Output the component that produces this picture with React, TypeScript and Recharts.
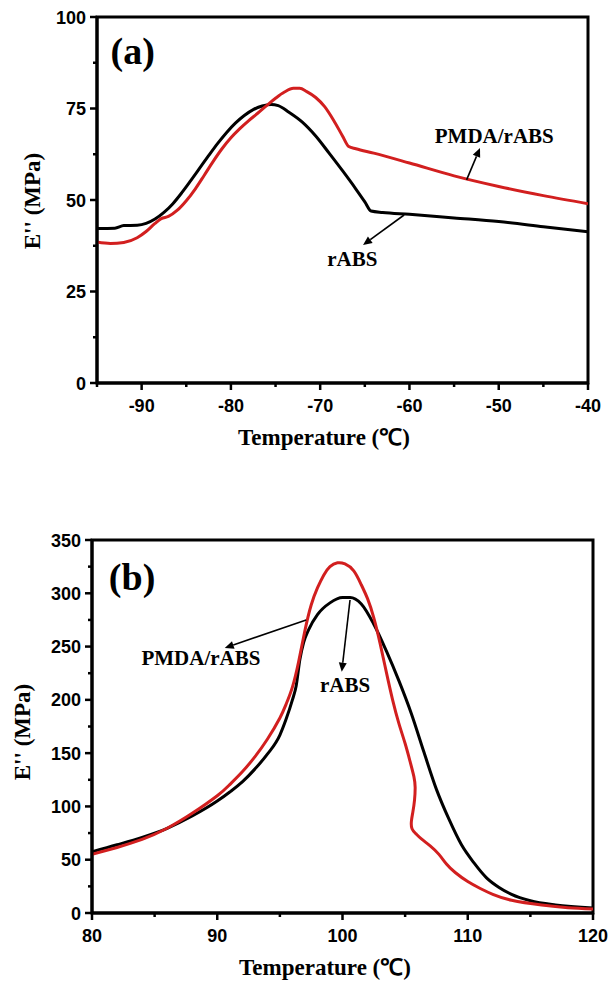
import { LineChart, Line, XAxis, YAxis, ReferenceArea, ReferenceLine, ReferenceDot } from 'recharts';

const serif = "'Liberation Serif', 'Times New Roman', serif";
const sans = "'Liberation Sans', Arial, sans-serif";
const RED = '#d21f1f';

// panel (a) – low temperature loss peak
const aTempRABS = [-95, -93, -92, -90.5, -89.5, -88.5, -87.5, -86.5, -85.5, -84.5, -83.5, -82.5, -81.5, -80.5, -79.5, -78.5, -77.5, -76.5, -75.5, -74.7, -73.5, -72, -70.5, -69, -67.5, -66, -65, -64.3, -63, -60, -55, -50, -45, -40];
const aLossRABS = [42.2, 42.3, 43, 43.1, 43.6, 44.8, 46.6, 49, 52, 55.3, 58.7, 62.1, 65.4, 68.4, 71, 73.1, 74.7, 75.7, 76.1, 75.8, 74, 71.3, 67.5, 62.8, 58, 53, 49.5, 47, 46.6, 46.1, 45.1, 44.1, 42.7, 41.3];
const aTempPMDA = [-95, -93.5, -92, -90.5, -89.5, -88.5, -87.8, -87, -86, -85, -84, -83, -82, -81, -80, -79, -78, -77, -76, -75, -74, -73, -72.3, -71.5, -70.5, -69.5, -68.5, -67.5, -66.8, -66, -64, -60, -55, -50, -45, -40];
const aLossPMDA = [38.5, 38.1, 38.4, 39.7, 41.4, 43.6, 44.9, 45.5, 47.2, 49.8, 53, 56.7, 60.5, 64, 67, 69.5, 71.7, 73.7, 75.8, 77.8, 79.5, 80.5, 80.5, 79.6, 78, 75.5, 71.8, 67.5, 64.6, 64, 62.8, 60.1, 56.6, 53.7, 51.2, 49];
const aXMajor = [-90, -80, -70, -60, -50, -40];
const aXMinor = [-95, -85, -75, -65, -55, -45];
const aYMajor = [0, 25, 50, 75, 100];
const aYMinor = [12.5, 37.5, 62.5, 87.5];

// panel (b) – glass transition peak
const bTempRABS = [80, 82, 84, 86, 88, 90, 91, 92, 93, 94, 95, 95.5, 96, 96.3, 96.6, 96.9, 97.3, 98, 99, 100, 100.6, 101.5, 102.5, 103.5, 104.5, 105.5, 106.5, 107.5, 108.5, 109.5, 110.5, 111.5, 112.5, 113.5, 115, 117, 120];
const bLossRABS = [57.5, 64, 71, 79.5, 91, 105, 113.5, 123, 135, 149, 167, 182, 200, 213, 238, 254, 266, 280, 291, 296, 296, 290, 271, 246, 218, 187, 151, 116, 88, 64, 47, 33, 24, 17.5, 11.5, 7.5, 4.7];
const bTempPMDA = [80, 82, 84, 86, 88, 90, 91, 92, 93, 94, 95, 95.5, 96, 96.5, 97, 97.5, 98, 98.5, 99, 99.6, 100.2, 100.9, 101.5, 102, 102.5, 103, 103.5, 104, 104.5, 105, 105.4, 105.7, 105.8, 105.75, 105.62, 105.5, 105.55, 105.85, 106.3, 107, 107.7, 108.3, 109, 110, 111, 112, 113.5, 115.9, 118, 120];
const bLossPMDA = [55, 61.5, 69, 79.5, 93.5, 110, 120.5, 132.5, 146.5, 163, 183, 196, 212, 236, 265, 289, 305, 317, 325, 328.6, 327.5, 321, 308, 295, 277, 253, 226, 200, 178, 159, 142, 128, 118, 106, 95, 86, 79, 74.5, 69.5, 63, 55, 46, 38, 29.5, 23, 17.5, 12, 7.5, 5, 3.8];
const bXMajor = [80, 90, 100, 110, 120];
const bXMinor = [85, 95, 105, 115];
const bYMajor = [0, 50, 100, 150, 200, 250, 300, 350];
const bYMinor = [25, 75, 125, 175, 225, 275, 325];

const zip = (t: number[], v: number[]) => t.map((x, i) => ({ t: x, e: v[i] }));

function makeXTick(major: number[]) {
  return (props: any) => {
    const { x, y, payload } = props;
    const isMajor = major.includes(payload.value);
    return (
      <g>
        <line x1={x} y1={y} x2={x} y2={y + (isMajor ? 7 : 4)} stroke="#000" strokeWidth={2.5} />
        {isMajor && (
          <text x={x} y={y + 29} textAnchor="middle" fontFamily={sans} fontWeight="bold" fontSize={18} fill="#000">
            {payload.value}
          </text>
        )}
      </g>
    );
  };
}

function makeYTick(major: number[]) {
  return (props: any) => {
    const { x, y, payload } = props;
    const isMajor = major.includes(payload.value);
    return (
      <g>
        <line x1={x} y1={y} x2={x - (isMajor ? 7 : 4)} y2={y} stroke="#000" strokeWidth={2.5} />
        {isMajor && (
          <text x={x - 11} y={y + 6.5} textAnchor="end" fontFamily={sans} fontWeight="bold" fontSize={18} fill="#000">
            {payload.value}
          </text>
        )}
      </g>
    );
  };
}

const arrowShape = (props: any) => {
  const { x1, y1, x2, y2 } = props;
  const ang = Math.atan2(y2 - y1, x2 - x1);
  const len = 9;
  const w = 4;
  const bx = x2 - len * Math.cos(ang);
  const by = y2 - len * Math.sin(ang);
  const px = -Math.sin(ang) * w;
  const py = Math.cos(ang) * w;
  return (
    <g>
      <line x1={x1} y1={y1} x2={bx} y2={by} stroke="#000" strokeWidth={1.6} />
      <polygon points={`${x2},${y2} ${bx + px},${by + py} ${bx - px},${by - py}`} fill="#000" />
    </g>
  );
};

const textShape = (label: string, size: number) => (props: any) => (
  <text x={props.cx} y={props.cy} textAnchor="middle" dominantBaseline="central" fontFamily={serif} fontWeight="bold" fontSize={size} fill="#000">
    {label}
  </text>
);

type Note = { x: number; y: number; text: string; size: number };
type Arrow = { from: [number, number]; to: [number, number] };

function Panel(p: {
  top: number;
  height: number;
  margin: { top: number; right: number; bottom: number; left: number };
  yWidth: number;
  xDomain: [number, number];
  yDomain: [number, number];
  xMajor: number[];
  xMinor: number[];
  yMajor: number[];
  yMinor: number[];
  rabs: { t: number; e: number }[];
  pmda: { t: number; e: number }[];
  pmdaCurve: 'monotone' | 'natural' | 'linear';
  notes: Note[];
  arrows: Arrow[];
}) {
  const xTicks = [...p.xMajor, ...p.xMinor].sort((a, b) => a - b);
  const yTicks = [...p.yMajor, ...p.yMinor].sort((a, b) => a - b);
  return (
    <div style={{ position: 'absolute', left: 0, top: p.top }}>
      <LineChart width={612} height={p.height} margin={p.margin}>
        <XAxis
          type="number"
          dataKey="t"
          domain={p.xDomain}
          ticks={xTicks}
          interval={0}
          height={30}
          tickSize={0}
          tickMargin={0}
          tickLine={false}
          axisLine={{ stroke: '#000', strokeWidth: 3 }}
          tick={makeXTick(p.xMajor)}
          allowDataOverflow
        />
        <YAxis
          type="number"
          domain={p.yDomain}
          ticks={yTicks}
          interval={0}
          width={p.yWidth}
          tickSize={0}
          tickMargin={0}
          tickLine={false}
          axisLine={{ stroke: '#000', strokeWidth: 3 }}
          tick={makeYTick(p.yMajor)}
          allowDataOverflow
        />
        <ReferenceArea x1={p.xDomain[0]} x2={p.xDomain[1]} y1={p.yDomain[0]} y2={p.yDomain[1]} fill="none" stroke="#000" strokeWidth={3} />
        <Line data={p.rabs} dataKey="e" type="monotone" stroke="#000" strokeWidth={3} dot={false} activeDot={false} isAnimationActive={false} />
        <Line data={p.pmda} dataKey="e" type={p.pmdaCurve} stroke={RED} strokeWidth={3} dot={false} activeDot={false} isAnimationActive={false} />
        {p.arrows.map((a, i) => (
          <ReferenceLine
            key={'a' + i}
            segment={[
              { x: a.from[0], y: a.from[1] },
              { x: a.to[0], y: a.to[1] },
            ]}
            shape={arrowShape}
          />
        ))}
        {p.notes.map((n, i) => (
          <ReferenceDot key={'n' + i} x={n.x} y={n.y} r={0} shape={textShape(n.text, n.size)} />
        ))}
      </LineChart>
    </div>
  );
}

const titleStyle = (left: number, top: number, rotate = false): React.CSSProperties => ({
  position: 'absolute',
  left,
  top,
  transform: `translate(-50%, -50%)${rotate ? ' rotate(-90deg)' : ''}`,
  whiteSpace: 'nowrap',
  fontFamily: serif,
  fontWeight: 'bold',
  fontSize: 23,
  color: '#000',
  lineHeight: 1,
});

export default function App() {
  return (
    <div style={{ position: 'absolute', left: 0, top: 0, width: 612, height: 983, background: '#fff' }}>
      <Panel
        top={0}
        height={460}
        margin={{ top: 17, right: 24, bottom: 47, left: 0 }}
        yWidth={97}
        xDomain={[-95, -40]}
        yDomain={[0, 100]}
        xMajor={aXMajor}
        xMinor={aXMinor}
        yMajor={aYMajor}
        yMinor={aYMinor}
        rabs={zip(aTempRABS, aLossRABS)}
        pmda={zip(aTempPMDA, aLossPMDA)}
        pmdaCurve="monotone"
        notes={[
          { x: -91, y: 90.7, text: '(a)', size: 38 },
          { x: -50.5, y: 67.5, text: 'PMDA/rABS', size: 21 },
          { x: -66.4, y: 33.9, text: 'rABS', size: 21 },
        ]}
        arrows={[
          { from: [-53.6, 55.5], to: [-52.1, 64.2] },
          { from: [-60.6, 45.9], to: [-65.2, 37.7] },
        ]}
      />
      <div style={titleStyle(324, 437)}>Temperature (℃)</div>
      <div style={titleStyle(32, 201, true)}>E'' (MPa)</div>

      <Panel
        top={500}
        height={483}
        margin={{ top: 40, right: 19, bottom: 40, left: 0 }}
        yWidth={92}
        xDomain={[80, 120]}
        yDomain={[0, 350]}
        xMajor={bXMajor}
        xMinor={bXMinor}
        yMajor={bYMajor}
        yMinor={bYMinor}
        rabs={zip(bTempRABS, bLossRABS)}
        pmda={zip(bTempPMDA, bLossPMDA)}
        pmdaCurve="natural"
        notes={[
          { x: 83.2, y: 315, text: '(b)', size: 38 },
          { x: 88.7, y: 239, text: 'PMDA/rABS', size: 21 },
          { x: 100.2, y: 214, text: 'rABS', size: 21 },
        ]}
        arrows={[
          { from: [97.1, 275], to: [90.6, 248.7] },
          { from: [100.6, 293.7], to: [99.94, 226.4] },
        ]}
      />
      <div style={titleStyle(325, 967)}>Temperature (℃)</div>
      <div style={titleStyle(22, 732, true)}>E'' (MPa)</div>
    </div>
  );
}
